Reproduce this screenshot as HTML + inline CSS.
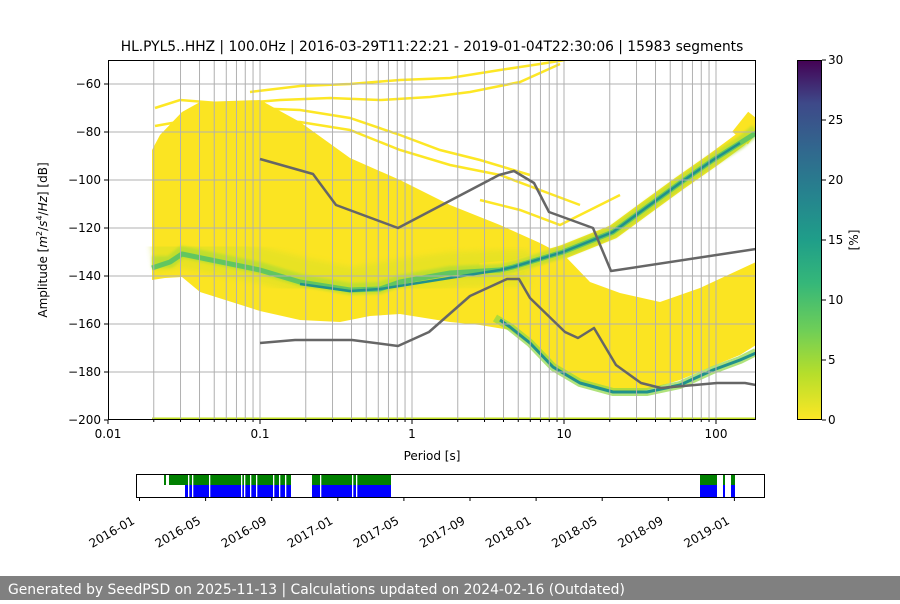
<!DOCTYPE html>
<html><head><meta charset="utf-8"><style>
html,body{margin:0;padding:0;background:#fff;}
body{width:900px;height:600px;overflow:hidden;position:relative;font-family:"DejaVu Sans","Liberation Sans",sans-serif;}
svg text{font-family:"DejaVu Sans","Liberation Sans",sans-serif;}
</style></head><body>
<svg id="s" width="900" height="600" viewBox="0 0 900 600" xmlns="http://www.w3.org/2000/svg">
<defs>
<linearGradient id="vir" x1="0" y1="1" x2="0" y2="0">
<stop offset="0" stop-color="#fde725"/><stop offset="0.13" stop-color="#b5de2b"/><stop offset="0.25" stop-color="#6ece58"/>
<stop offset="0.38" stop-color="#35b779"/><stop offset="0.5" stop-color="#1f9e89"/><stop offset="0.63" stop-color="#26828e"/>
<stop offset="0.75" stop-color="#31688e"/><stop offset="0.88" stop-color="#3e4989"/><stop offset="1" stop-color="#440154"/>
</linearGradient>
<clipPath id="ax"><rect x="108" y="60" width="648" height="360"/></clipPath>
<filter id="bl"><feGaussianBlur stdDeviation="3"/></filter>
<filter id="bl2"><feGaussianBlur stdDeviation="1.2"/></filter>
</defs>
<text x="432" y="51" font-size="13.8" text-anchor="middle">HL.PYL5..HHZ | 100.0Hz | 2016-03-29T11:22:21 - 2019-01-04T22:30:06 | 15983 segments</text>
<g clip-path="url(#ax)">
<g fill="none" stroke="#fde725" stroke-width="2.5">
<polyline points="250,92 300,86 350,84 400,80 450,78 500,70 540,64 565,60"/>
<polyline points="155,108 180,100 230,104 280,100 330,98 380,100 430,97 470,92 520,82 560,64"/>
<polyline points="155,126 200,118 250,120 300,122 350,130 400,150 450,165 500,175 540,190 580,205"/>
<polyline points="250,108 300,110 350,118 400,135 440,150 480,160 530,175"/>
<polyline points="480,200 520,210 560,225 600,205 620,195"/>
</g>
<polygon fill="#fbe422" points="152,150 160,135 182,112 200,102 260,100 300,122 350,158 400,180 450,205 500,225 540,243 565,256 590,282 620,293 660,302 700,288 756,262 756,345 740,355 713,366 680,380 647,390 613,392 580,384 553,368 530,345 510,330 480,325 450,322 400,314 370,316 340,322 300,320 260,311 200,292 182,277 165,278 152,280"/>
<polyline fill="none" stroke="#d2e028" stroke-width="36" opacity="0.45" filter="url(#bl)" points="152,255 182,250 260,265 300,275 350,285 400,277 450,270 500,268 530,268"/>
<polyline fill="none" stroke="#fbe422" stroke-width="14" points="480,270 513,267 563,252 613,232 647,207 680,183 713,160 740,140 756,125"/>
<polyline fill="none" stroke="#fbe422" stroke-width="20" points="740,138 756,118"/>
<g fill="none" stroke-linejoin="round">
<polyline stroke="#a5db36" stroke-width="12" opacity="0.6" filter="url(#bl2)" points="152,262 170,262 182,252 260,268 300,280 350,289 380,288 400,281 450,272 500,270 513,267 563,252 613,232 647,207 680,183 713,160 740,143 756,130"/>
<polyline stroke="#4ac16d" stroke-width="5" opacity="0.8" points="152,268 170,262 182,254 260,270 300,282 350,290 380,289 400,282 450,273 500,270 513,267 563,252 613,232 647,207 680,183 713,160 740,143 756,133"/>
<polyline stroke="#21918c" stroke-width="2.5" points="300,284 350,291 380,289 500,270 513,267 563,252 613,232 647,207 680,183 713,160 740,143"/>
<polyline stroke="#8fd744" stroke-width="8" opacity="0.7" points="495,318 510,327 530,343 553,367 580,383 613,392 647,392 680,385 713,370 740,360 756,352"/>
<polyline stroke="#21918c" stroke-width="3" points="500,320 510,327 530,343 553,367 580,383 613,392 647,392 680,385 713,370 740,360 756,353"/>
</g>
<line x1="152" y1="419" x2="756" y2="419" stroke="#c0df25" stroke-width="3"/>
<g id="grid" stroke="#b0b0b0" stroke-width="1"></g>
<g fill="none" stroke="#666" stroke-width="2.5" stroke-linejoin="round">
<polyline points="260,159 313,174 336,205 398,228 499,175 514,171 534,183 549,212 593,228 611,271 756,249"/>
<polyline points="260,343 295,340 352,340 398,346 429,332 470,296 507,279 519,279 530,298 565,332 578,338 594,328 616,365 641,383 661,388 717,383 745,383 756,385"/>
</g>
</g>
<rect x="108.5" y="60.5" width="647" height="359" fill="none" stroke="#000" stroke-width="1"/>
<g id="ticks" font-size="12"></g>
<text x="432" y="460" font-size="12" text-anchor="middle">Period [s]</text>
<text transform="translate(47,240) rotate(-90)" font-size="12" text-anchor="middle">Amplitude [<tspan font-style="italic">m</tspan><tspan font-size="8" dy="-5">2</tspan><tspan dy="5">/</tspan><tspan font-style="italic">s</tspan><tspan font-size="8" dy="-5">4</tspan><tspan dy="5">/</tspan><tspan font-style="italic">Hz</tspan>] [dB]</text>
<rect x="797" y="60" width="25" height="360" fill="url(#vir)"/>
<rect x="797.5" y="60.5" width="24" height="359" fill="none" stroke="#000"/>
<g font-size="12" id="cb"></g>
<text transform="translate(858,240) rotate(-90)" font-size="12" text-anchor="middle">[%]</text>
<g id="tl"></g>
<rect x="136.5" y="474.5" width="628" height="23" fill="none" stroke="#000"/>
<g id="dt" font-size="12"></g>
<rect x="0" y="576" width="900" height="24" fill="#808080"/>
<text x="8" y="594" font-size="13.9" fill="#fff">Generated by SeedPSD on 2025-11-13 | Calculations updated on 2024-02-16 (Outdated)</text>
</svg>
<script>
var NS="http://www.w3.org/2000/svg";
function el(p,t,a,txt){var e=document.createElementNS(NS,t);for(var k in a)e.setAttribute(k,a[k]);if(txt!==undefined)e.textContent=txt;document.getElementById(p).appendChild(e);return e;}
function X(p){return 108+152*Math.log10(p/0.01);}
var ps=[];[0.01,0.1,1,10,100].forEach(function(d){for(var m=1;m<10;m++)ps.push(d*m);});
ps.forEach(function(p){if(p<0.019)return;var x=X(p);if(x>755)return;el("grid","line",{x1:x,y1:60,x2:x,y2:420});});
for(var db=-60;db>=-180;db-=20){var y=420-(db+200)*2.4;el("grid","line",{x1:108,y1:y,x2:756,y2:y});}
[[0.01,"0.01"],[0.1,"0.1"],[1,"1"],[10,"10"],[100,"100"]].forEach(function(a){var x=X(a[0]);el("ticks","line",{x1:x,y1:420,x2:x,y2:424,stroke:"#000"});el("ticks","text",{x:x,y:438,"text-anchor":"middle"},a[1]);});
ps.forEach(function(p){var x=X(p);if(x>756)return;el("ticks","line",{x1:x,y1:420,x2:x,y2:422,stroke:"#000"});});
for(var db=-60;db>=-200;db-=20){var y=420-(db+200)*2.4;el("ticks","line",{x1:104,y1:y,x2:108,y2:y,stroke:"#000"});el("ticks","text",{x:101,y:y+4,"text-anchor":"end"},"\u2212"+(-db));}
for(var v=0;v<=30;v+=5){var y=420-v*12;el("cb","line",{x1:822,y1:y,x2:826,y2:y,stroke:"#000"});el("cb","text",{x:828,y:y+4},""+v);}
function seg(a,b,top,c){el("tl","rect",{x:a,y:top?475:485,width:b-a,height:top?10:12,fill:c});}
[[164,166],[169,291],[312,391],[700,717],[723,725],[731,735]].forEach(function(s){seg(s[0],s[1],1,"#008000");});
[[185,291],[312,391],[700,717],[723,725],[731,735]].forEach(function(s){seg(s[0],s[1],0,"#0000ff");});
[188,192,209,241,244,250,256,273,279,285,320,352,356].forEach(function(x){el("tl","rect",{x:x,y:475,width:1.3,height:22,fill:"#fff"});});
var lab=["2016-01","2016-05","2016-09","2017-01","2017-05","2017-09","2018-01","2018-05","2018-09","2019-01"];
lab.forEach(function(l,i){var x=139.5+66.1*i;el("dt","line",{x1:x,y1:497,x2:x,y2:501,stroke:"#000"});var tx=x-4,ty=523;el("dt","text",{x:tx,y:ty,"text-anchor":"end",transform:"rotate(-30 "+tx+" "+ty+")"},l);});
</script>
</body></html>
